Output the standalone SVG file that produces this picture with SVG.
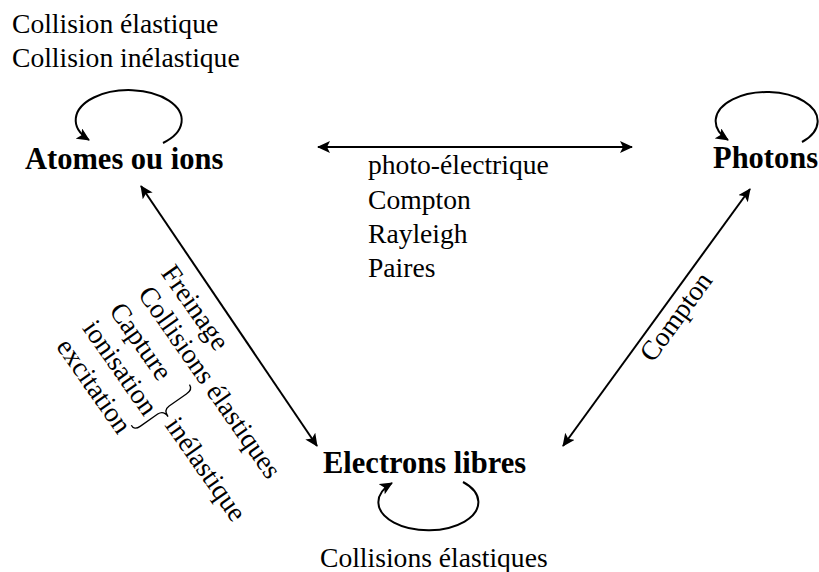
<svg xmlns="http://www.w3.org/2000/svg" width="819" height="572" viewBox="0 0 819 572">
  <style>
    text { font-family: "Liberation Serif", "Times New Roman", serif; fill: #000; }
    .node { font-size: 30.5px; font-weight: bold; }
    .lbl { font-size: 27.6px; }
    .conn { fill: none; stroke: #000; stroke-width: 2; }
    .brace { fill: none; stroke: #000; stroke-width: 1.3; }
  </style>
  <defs>
    <marker id="ah" markerUnits="userSpaceOnUse" markerWidth="14" markerHeight="12" refX="12" refY="6" orient="auto-start-reverse" viewBox="0 0 14 12">
      <path d="M0,0 L13,6 L0,12 L3,6 z" fill="#000"/>
    </marker>
  </defs>

  <rect width="819" height="572" fill="#fff"/>

  <g id="atomes">
    <text class="node" x="25" y="169">Atomes ou ions</text>
  </g>
  <g id="photons">
    <text class="node" x="713" y="168">Photons</text>
  </g>
  <g id="electrons">
    <text class="node" x="323" y="473">Electrons libres</text>
  </g>

  <g id="connectors">
    <path class="conn" d="M163,143 A53 30 0 1 0 89,140" marker-end="url(#ah)"/>
    <path class="conn" d="M802,142 A51 29 0 1 0 728,140" marker-end="url(#ah)"/>
    <path class="conn" d="M463,482 A50 28 0 1 1 392,483" marker-end="url(#ah)"/>
    <line class="conn" x1="318" y1="147" x2="632" y2="147" marker-start="url(#ah)" marker-end="url(#ah)"/>
    <line class="conn" x1="141" y1="186" x2="317" y2="446" marker-start="url(#ah)" marker-end="url(#ah)"/>
    <line class="conn" x1="563" y1="446" x2="750" y2="189" marker-start="url(#ah)" marker-end="url(#ah)"/>
  </g>

  <g id="labels">
    <text class="lbl" x="12" y="33">Collision élastique</text>
    <text class="lbl" x="12" y="67">Collision inélastique</text>
    <text class="lbl" x="368" y="174">photo-électrique</text>
    <text class="lbl" x="368" y="209">Compton</text>
    <text class="lbl" x="368" y="243">Rayleigh</text>
    <text class="lbl" x="368" y="277">Paires</text>
    <text class="lbl" x="320" y="567">Collisions élastiques</text>
    <text class="lbl" transform="translate(653,363.6) rotate(-54)">Compton</text>
    <g transform="translate(160.3,273.1) rotate(55)">
      <text class="lbl" x="0" y="0">Freinage</text>
      <text class="lbl" x="4" y="31">Collisions élastiques</text>
      <text class="lbl" x="1" y="64">Capture</text>
      <text class="lbl" x="0" y="96">ionisation</text>
      <text class="lbl" x="0" y="128">excitation</text>
      <text class="lbl" x="127" y="84">inélastique</text>
      <path class="brace" d="M108,111 Q114,112 114,104 L114,83 Q114,76 122,76 Q114,76 114,69 L114,48 Q114,40 108,40"/>
    </g>
  </g>
</svg>
